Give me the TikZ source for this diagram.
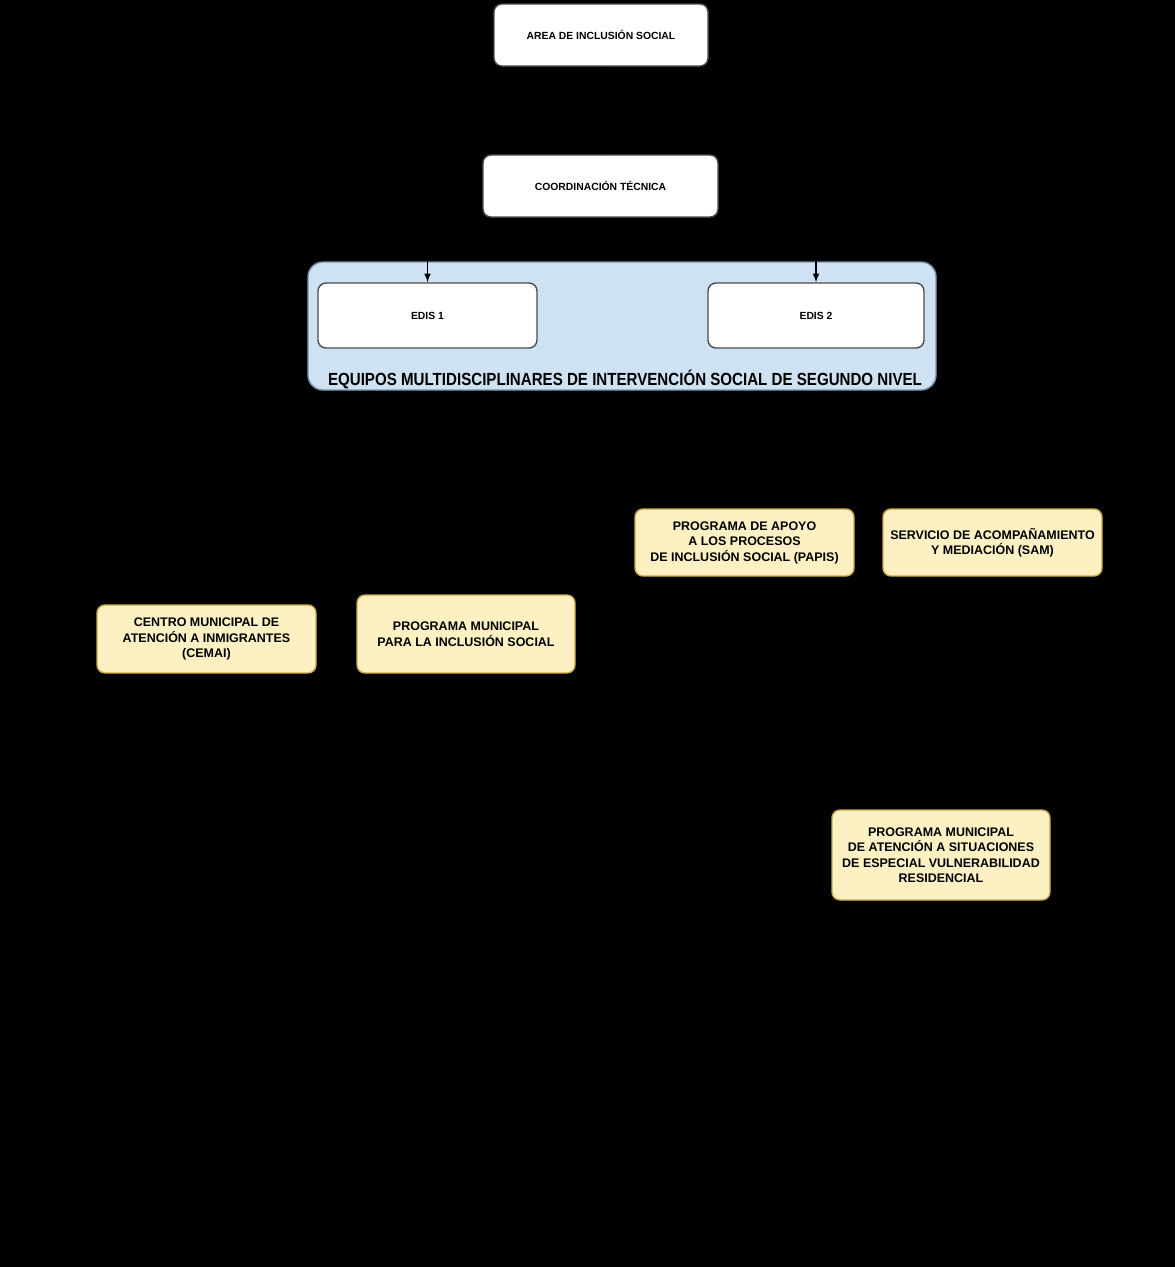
\documentclass[tikz,border=0pt]{standalone}
\usepackage{fontspec}
\setmainfont{Liberation Sans}
\newfontfamily\narrowfont[FakeStretch=0.86]{Liberation Sans}
\usepackage{xcolor}
\usepackage{tikz}
\definecolor{grupo}{HTML}{CFE2F3}
\definecolor{grupoborde}{HTML}{7C93B0}
\definecolor{amarillo}{HTML}{FDF1C4}
\definecolor{amarilloborde}{HTML}{C9A94A}

\begin{document}
\begin{tikzpicture}[
  blanca/.style={draw=black!70, fill=white, rounded corners=0.16cm, line width=0.8pt, align=center,
    font=\bfseries\fontsize{5.9}{7}\selectfont, inner sep=0pt},
  amarilla/.style={draw=amarilloborde, fill=amarillo, rounded corners=0.16cm, line width=0.8pt, align=center,
    font=\bfseries\fontsize{7.1}{8.8}\selectfont, inner sep=0pt},
  enlace/.style={draw=black, line width=0.7pt}]
\fill[black] (0,0) rectangle (23.5,-25.34);
\useasboundingbox (0,0) rectangle (23.5,-25.34);
% nivel superior
\node[blanca, minimum width=4.28cm, minimum height=1.24cm] (area) at (12.02,-0.70) {AREA DE INCLUSIÓN SOCIAL};
\node[blanca, minimum width=4.70cm, minimum height=1.24cm] (coord) at (12.01,-3.72) {COORDINACIÓN TÉCNICA};
\filldraw[draw=grupoborde, fill=grupo, rounded corners=0.3cm, line width=0.8pt] (6.16,-5.24) rectangle (18.72,-7.80);
\node[blanca, minimum width=4.38cm, minimum height=1.30cm] (edis1) at (8.55,-6.31) {EDIS 1};
\node[blanca, minimum width=4.32cm, minimum height=1.30cm] (edis2) at (16.32,-6.31) {EDIS 2};
\node (grupo) at (12.5,-7.58) {\narrowfont\bfseries\fontsize{10}{12}\selectfont EQUIPOS MULTIDISCIPLINARES DE INTERVENCIÓN SOCIAL DE SEGUNDO NIVEL};
% programas
\node[amarilla, minimum width=4.38cm, minimum height=1.36cm] (cemai) at (4.13,-12.78) {CENTRO MUNICIPAL DE\\ATENCIÓN A INMIGRANTES\\(CEMAI)};
\node[amarilla, minimum width=4.36cm, minimum height=1.56cm] (pmis) at (9.32,-12.68) {PROGRAMA MUNICIPAL\\PARA LA INCLUSIÓN SOCIAL};
\node[amarilla, minimum width=4.38cm, minimum height=1.34cm] (papis) at (14.89,-10.85) {PROGRAMA DE APOYO\\A LOS PROCESOS\\DE INCLUSIÓN SOCIAL (PAPIS)};
\node[amarilla, minimum width=4.38cm, minimum height=1.34cm] (sam) at (19.85,-10.85) {SERVICIO DE ACOMPAÑAMIENTO\\Y MEDIACIÓN (SAM)};
\node[amarilla, minimum width=4.36cm, minimum height=1.80cm] (vuln) at (18.82,-17.10) {PROGRAMA MUNICIPAL\\DE ATENCIÓN A SITUACIONES\\DE ESPECIAL VULNERABILIDAD\\RESIDENCIAL};
% conexiones
\coordinate (reparto) at (12.01,-4.90);
\draw[enlace] (area) -- (coord);
\draw[enlace] (coord) -- (reparto);
\draw[enlace, -latex] (reparto) -| (edis1);
\draw[enlace, -latex] (reparto) -| (edis2);
\end{tikzpicture}
\end{document}
